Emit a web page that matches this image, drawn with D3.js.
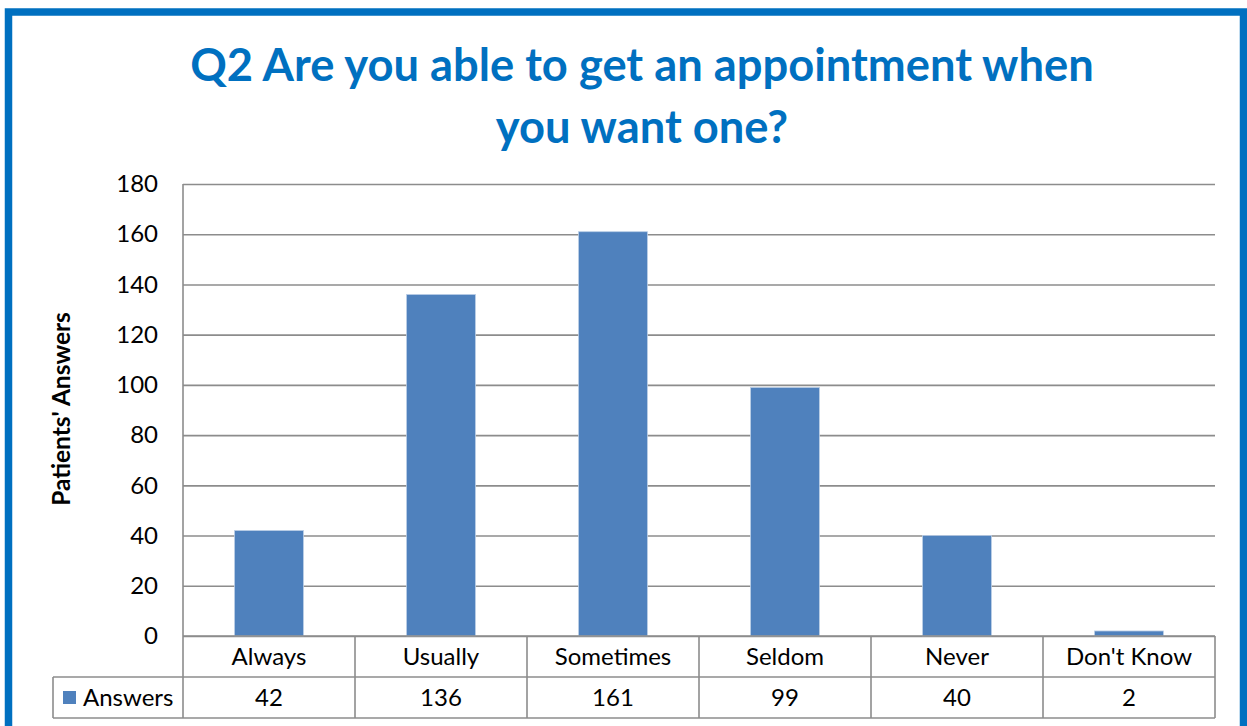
<!DOCTYPE html>
<html>
<head>
<meta charset="utf-8">
<script src="https://cdn.jsdelivr.net/npm/d3@7"></script>
<style>
  html, body { margin: 0; padding: 0; background: #fff; }
  svg { display: block; }
  text { font-family: Lato, "Open Sans", sans-serif; }
</style>
</head>
<body>
<svg id="chart" width="1247" height="726"></svg>
<script>
// Survey question and answers
const titleLines = ["Q2 Are you able to get an appointment when", "you want one?"];
const categories = ["Always", "Usually", "Sometimes", "Seldom", "Never", "Don't Know"];
const seriesName = "Answers";
const answers = [42, 136, 161, 99, 40, 2];
const yTicks = [0, 20, 40, 60, 80, 100, 120, 140, 160, 180];
const yLabel = "Patients' Answers";

const svg = d3.select("#chart");
const W = 1247, H = 726;
const plot = { left: 183, right: 1215, top: 184, bottom: 636 };
const rowH = 41;            // height of each data-table row
const legendLeft = 53;      // left edge of series-name cell
const gridColor = "#8c8c8c";
const barColor = "#4f81bd";
const blue = "#0070c0";
const fs = 24;              // body text size

svg.append("rect").attr("width", W).attr("height", H).attr("fill", "#fff");

// Outer frame
svg.append("rect")
  .attr("x", 8.5).attr("y", 12)
  .attr("width", W - 12).attr("height", H + 40)
  .attr("fill", "none")
  .attr("stroke", blue)
  .attr("stroke-width", 7.5);

// Title
const title = svg.append("text")
  .attr("text-anchor", "middle")
  .attr("fill", blue)
  .attr("font-weight", "bold")
  .attr("font-size", 45.3);
titleLines.forEach((t, i) => {
  title.append("tspan").attr("x", 642).attr("y", 81 + i * 62).text(t);
});

// Scales
const x = d3.scaleBand()
  .domain(categories)
  .range([plot.left, plot.right])
  .paddingInner(0.6)
  .paddingOuter(0.3);

const y = d3.scaleLinear()
  .domain([0, 180])
  .range([plot.bottom, plot.top]);

// Gridlines and tick labels
const yAxis = svg.append("g")
  .attr("transform", `translate(${plot.left},0)`)
  .call(d3.axisLeft(y).tickValues(yTicks).tickSize(-(plot.right - plot.left)).tickPadding(25));
yAxis.select(".domain").remove();
yAxis.selectAll(".tick line").attr("stroke", gridColor).attr("stroke-width", 1.6);
yAxis.selectAll(".tick text")
  .attr("font-size", fs)
  .attr("fill", "#000")
  .style("font-family", "Lato, 'Open Sans', sans-serif");

// Bars
svg.append("g").selectAll("rect")
  .data(answers)
  .join("rect")
  .attr("x", (d, i) => x(categories[i]))
  .attr("y", d => y(d))
  .attr("width", x.bandwidth())
  .attr("height", d => y(0) - y(d))
  .attr("fill", barColor)
  .attr("stroke", "#b9cde5")
  .attr("stroke-width", 0.8);

// Data table beneath the axis
const table = svg.append("g").attr("stroke", gridColor).attr("stroke-width", 1.6);
const step = (plot.right - plot.left) / categories.length;
const r1 = plot.bottom, r2 = plot.bottom + rowH, r3 = plot.bottom + 2 * rowH;

table.append("line").attr("x1", plot.left).attr("x2", plot.right).attr("y1", r1).attr("y2", r1);
table.append("line").attr("x1", legendLeft).attr("x2", plot.right).attr("y1", r2).attr("y2", r2);
table.append("line").attr("x1", legendLeft).attr("x2", plot.right).attr("y1", r3).attr("y2", r3);
table.append("line").attr("x1", legendLeft).attr("x2", legendLeft).attr("y1", r2).attr("y2", r3);
table.append("line").attr("x1", plot.left).attr("x2", plot.left).attr("y1", plot.top).attr("y2", r3);
categories.forEach((c, i) => {
  const xe = plot.left + (i + 1) * step;
  table.append("line").attr("x1", xe).attr("x2", xe).attr("y1", r1).attr("y2", r3);
});

// Category names
svg.append("g").selectAll("text")
  .data(categories)
  .join("text")
  .attr("x", d => x(d) + x.bandwidth() / 2)
  .attr("y", r1 + rowH / 2 + 8)
  .attr("text-anchor", "middle")
  .attr("font-size", fs)
  .attr("fill", "#000")
  .text(d => d);

// Values row
svg.append("g").selectAll("text")
  .data(answers)
  .join("text")
  .attr("x", (d, i) => x(categories[i]) + x.bandwidth() / 2)
  .attr("y", r2 + rowH / 2 + 8)
  .attr("text-anchor", "middle")
  .attr("font-size", fs)
  .attr("fill", "#000")
  .text(d => d);

// Legend key in the series-name cell
svg.append("rect")
  .attr("x", 63).attr("y", r2 + 14)
  .attr("width", 13).attr("height", 13)
  .attr("fill", barColor);
svg.append("text")
  .attr("x", 83).attr("y", r2 + rowH / 2 + 8)
  .attr("font-size", fs)
  .attr("fill", "#000")
  .text(seriesName);

// Y axis title
svg.append("text")
  .attr("transform", `translate(70,${(plot.top + plot.bottom) / 2 - 1}) rotate(-90)`)
  .attr("text-anchor", "middle")
  .attr("font-size", 24.5)
  .attr("font-weight", "bold")
  .attr("fill", "#000")
  .text(yLabel);
</script>
</body>
</html>
